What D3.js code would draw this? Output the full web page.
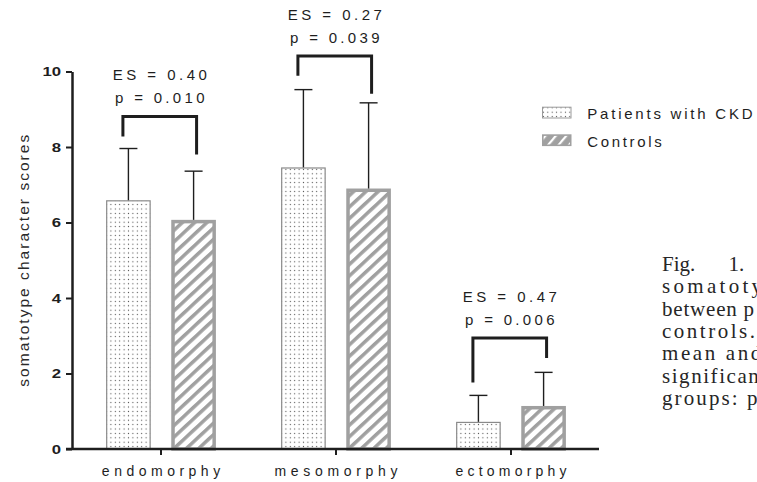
<!DOCTYPE html>
<html>
<head>
<meta charset="utf-8">
<script src="https://cdn.jsdelivr.net/npm/d3@7"></script>
<style>
  html, body { margin: 0; padding: 0; background: #fff; overflow: hidden; }
  svg { display: block; }
</style>
</head>
<body>
<svg id="chart" width="757" height="482"></svg>
<script>
// ---------------- data ----------------
const categories = ["endomorphy", "mesomorphy", "ectomorphy"];
const seriesNames = ["Patients with CKD", "Controls"];
const patientMean = [6.59, 7.46, 0.72];
const patientSD   = [1.37, 2.06, 0.70];
const controlMean = [6.07, 6.90, 1.14];
const controlSD   = [1.29, 2.27, 0.89];
const yTicks = [0, 2, 4, 6, 8, 10];
const yLabel = "somatotype character scores";
const esLabels = ["ES = 0.40", "ES = 0.27", "ES = 0.47"];
const pLabels  = ["p = 0.010", "p = 0.039", "p = 0.006"];
const bracketTop   = [8.81, 10.41, 2.94];
const bracketLeft  = [8.28, 9.89, 1.76];
const bracketRight = [7.80, 9.41, 2.41];
const captionLines = ["Fig. 1.", "somatoty", "between p", "controls.", "mean and", "significan", "groups: p"];

// ---------------- layout ----------------
const svg = d3.select("#chart");
const defs = svg.append("defs");

const y = d3.scaleLinear().domain([0, 10]).range([449, 71.5]);
const x0 = d3.scaleBand().domain(categories).range([73.5, 598.5]).padding(0);
const x1 = d3.scaleBand().domain([0, 1]).range([0, x0.bandwidth()]).paddingInner(0.315).paddingOuter(0.5);

const GRAY = "#a0a0a0";
const INK = "#1e1e1e";
const SANS = "'Liberation Sans', Arial, sans-serif";

// patterns
const dots = defs.append("pattern").attr("id", "dots")
  .attr("patternUnits", "userSpaceOnUse").attr("width", 4.4).attr("height", 4.4);
dots.append("rect").attr("width", 4.4).attr("height", 4.4).attr("fill", "#fff");
dots.append("circle").attr("cx", 2.2).attr("cy", 2.2).attr("r", 0.62).attr("fill", "#4a4a4a");

const hatch = defs.append("pattern").attr("id", "hatch")
  .attr("patternUnits", "userSpaceOnUse").attr("width", 12).attr("height", 8.4)
  .attr("patternTransform", "rotate(-43)");
hatch.append("rect").attr("width", 12).attr("height", 8.4).attr("fill", "#fff");
hatch.append("rect").attr("width", 12).attr("height", 3.5).attr("fill", GRAY);

const hatchL = defs.append("pattern").attr("id", "hatchL")
  .attr("patternUnits", "userSpaceOnUse").attr("width", 10).attr("height", 8)
  .attr("patternTransform", "rotate(-50)");
hatchL.append("rect").attr("width", 10).attr("height", 8).attr("fill", GRAY);
hatchL.append("rect").attr("width", 10).attr("height", 2.2).attr("fill", "#fff");

// rows of data
const rows = categories.map((c, i) => ({
  cat: c, i,
  bars: [
    { s: 0, mean: patientMean[i], sd: patientSD[i] },
    { s: 1, mean: controlMean[i], sd: controlSD[i] }
  ]
}));

const barStroke = [1.2, 3.5];
const barStrokeColor = ["#8a8a8a", GRAY];
const barFill = ["url(#dots)", "url(#hatch)"];

const groups = svg.append("g").selectAll("g").data(rows).join("g")
  .attr("transform", d => `translate(${x0(d.cat)},0)`);

groups.selectAll("rect.bar").data(d => d.bars).join("rect")
  .attr("class", "bar")
  .attr("x", d => x1(d.s) + barStroke[d.s] / 2)
  .attr("width", d => x1.bandwidth() - barStroke[d.s])
  .attr("y", d => y(d.mean) + barStroke[d.s] / 2)
  .attr("height", d => y(0) - y(d.mean) - barStroke[d.s] / 2)
  .attr("fill", d => barFill[d.s])
  .attr("stroke", d => barStrokeColor[d.s])
  .attr("stroke-width", d => barStroke[d.s]);

// error bars
const cap = 9;
const eb = groups.selectAll("g.eb").data(d => d.bars).join("g").attr("class", "eb")
  .attr("stroke", INK).attr("stroke-width", 1.4).attr("fill", "none");
eb.append("line")
  .attr("x1", d => x1(d.s) + x1.bandwidth() / 2).attr("x2", d => x1(d.s) + x1.bandwidth() / 2)
  .attr("y1", d => y(d.mean)).attr("y2", d => y(d.mean + d.sd));
eb.append("line")
  .attr("x1", d => x1(d.s) + x1.bandwidth() / 2 - cap).attr("x2", d => x1(d.s) + x1.bandwidth() / 2 + cap)
  .attr("y1", d => y(d.mean + d.sd)).attr("y2", d => y(d.mean + d.sd));

// axes
const yAxis = svg.append("g").attr("transform", `translate(${x0.range()[0] - 1.5},0)`)
  .call(d3.axisLeft(y).tickValues(yTicks).tickSize(6).tickSizeOuter(0).tickPadding(5));
yAxis.select(".domain").attr("stroke", INK).attr("stroke-width", 2.5);
yAxis.selectAll(".tick line").attr("stroke", INK).attr("stroke-width", 2);
yAxis.selectAll(".tick text")
  .attr("font-family", SANS)
  .attr("font-weight", "bold").attr("font-size", 12.5).attr("fill", INK)
  .attr("lengthAdjust", "spacingAndGlyphs")
  .attr("textLength", d => String(d).length * 9.3);

const xAxis = svg.append("g").attr("transform", `translate(0,${y(0)})`)
  .call(d3.axisBottom(x0).tickSize(6).tickSizeOuter(0).tickPadding(0));
xAxis.select(".domain").attr("stroke", INK).attr("stroke-width", 2.5)
  .attr("d", `M${x0.range()[0] - 7.5},0H${x0.range()[1] + 0.5}`);
xAxis.selectAll(".tick line").attr("stroke", INK).attr("stroke-width", 2);
xAxis.selectAll(".tick text")
  .attr("font-family", SANS)
  .attr("font-size", 14).attr("fill", INK)
  .attr("y", 27).attr("dy", 0)
  .each(function () {
    const len = this.getComputedTextLength();
    d3.select(this).attr("textLength", len * 1.52).attr("lengthAdjust", "spacing");
  });

// y label
const yl = svg.append("text")
  .attr("transform", `translate(28.5,${(y(0) + y(10)) / 2 + 0.5}) rotate(-90)`)
  .attr("text-anchor", "middle")
  .attr("font-family", SANS)
  .attr("font-size", 15.5).attr("fill", "#2a2a2a")
  .text(yLabel);
yl.attr("textLength", yl.node().getComputedTextLength() * 1.266).attr("lengthAdjust", "spacing");

// brackets + annotations
const br = rows.map(r => {
  const xl = x0(r.cat) + x1(0) + x1.bandwidth() / 2 - 5.5;
  const xr = x0(r.cat) + x1(1) + x1.bandwidth() / 2 + 3;
  return { i: r.i, xl, xr };
});
svg.append("g").selectAll("path").data(br).join("path")
  .attr("fill", "none").attr("stroke", INK).attr("stroke-width", 3)
  .attr("stroke-linejoin", "miter")
  .attr("d", d => `M${d.xl},${y(bracketLeft[d.i])}V${y(bracketTop[d.i])}H${d.xr}V${y(bracketRight[d.i])}`);

function annot(sel, labels, dyOff) {
  sel.selectAll("text").data(br).join("text")
    .attr("x", d => (d.xl + d.xr) / 2)
    .attr("y", d => y(bracketTop[d.i]) - dyOff)
    .attr("text-anchor", "middle")
    .attr("font-family", SANS)
    .attr("font-size", 15).attr("fill", INK)
    .text(d => labels[d.i])
    .each(function () {
      const len = this.getComputedTextLength();
      d3.select(this).attr("textLength", len * 1.42).attr("lengthAdjust", "spacing");
    });
}
annot(svg.append("g"), pLabels, 13);
annot(svg.append("g"), esLabels, 36.5);

// legend
const legend = svg.append("g");
const legY = [106.7, 134.3];
const legFill = ["url(#dots)", "url(#hatchL)"];
const legStroke = [1, 1.6];
const legStrokeC = ["#9a9a9a", GRAY];
const legFactor = [1.367, 1.333];
seriesNames.forEach((s, k) => {
  legend.append("rect")
    .attr("x", 542 + legStroke[k] / 2).attr("y", legY[k] + legStroke[k] / 2)
    .attr("width", 29.5 - legStroke[k]).attr("height", 11.8 - legStroke[k])
    .attr("fill", legFill[k]).attr("stroke", legStrokeC[k]).attr("stroke-width", legStroke[k]);
  const t = legend.append("text")
    .attr("x", 587.3).attr("y", legY[k] + 12.3)
    .attr("font-family", SANS)
    .attr("font-size", 15).attr("fill", INK)
    .text(s);
  t.attr("textLength", t.node().getComputedTextLength() * legFactor[k]).attr("lengthAdjust", "spacing");
});

// caption (figure legend text from the page, clipped at the right edge as in the reference)
const capSpacing = [0, 3.3, 0.8, 2.5, 2.6, 1.55, 2.1];
const capG = svg.append("g")
  .attr("font-family", "'Liberation Serif', 'Times New Roman', serif")
  .attr("font-size", 21).attr("fill", "#262626");
captionLines.forEach((line, k) => {
  const t = capG.append("text")
    .attr("x", 662).attr("y", 271 + k * 22.35)
    .attr("letter-spacing", capSpacing[k])
    .style("white-space", "pre")
    .text(line);
  if (k === 0) t.attr("word-spacing", 28);
});
</script>
</body>
</html>
